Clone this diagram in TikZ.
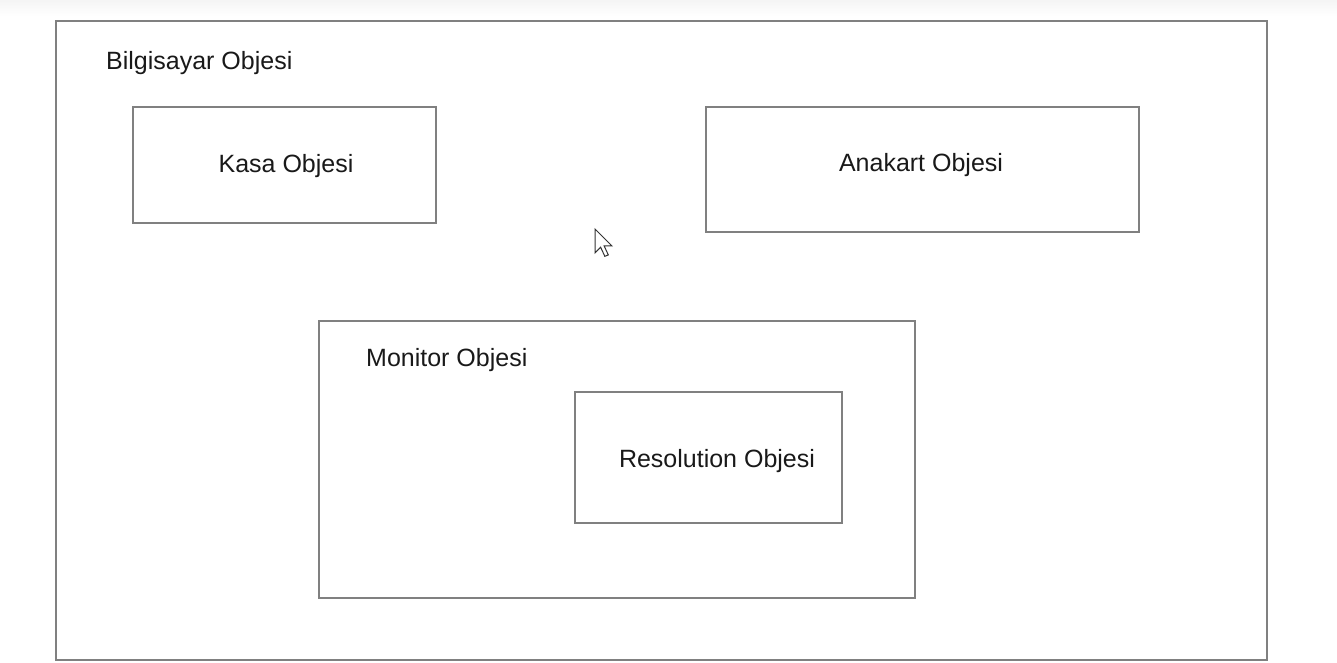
\documentclass[tikz,border=0pt]{standalone}
\usepackage{fontspec}
\setmainfont{Liberation Sans}
\begin{document}
\begin{tikzpicture}[x=1pt,y=-1pt,
  objbox/.style={draw=black!50, line width=1.5pt},
  lbl/.style={font=\fontsize{25}{30}\selectfont, text=black!90, inner sep=0pt},
]
\useasboundingbox (0,0) rectangle (1337,662);
\shade[top color=black!4, bottom color=white] (0,0) rectangle (1337,16);
\draw[objbox, line width=2pt] (56,21) rectangle (1267,660);
\node[lbl, anchor=west] (bilg) at (106,63) {Bilgisayar Objesi};
\draw[objbox] (133,107) rectangle (436,223);
\node[lbl] (kasa) at (286,166) {Kasa Objesi};
\draw[objbox] (706,107) rectangle (1139,232);
\node[lbl] (anakart) at (921,165) {Anakart Objesi};
\draw[objbox] (319,321) rectangle (915,598);
\node[lbl, anchor=west] (monitor) at (366,360) {Monitor Objesi};
\draw[objbox] (575,392) rectangle (842,523);
\node[lbl] (res) at (717,461) {Resolution Objesi};
% mouse cursor
\begin{scope}[shift={(595,229)}, scale=1.4]
\draw[fill=white, draw=black!80, line width=1pt, line join=miter]
  (0,0) -- (0,17) -- (4,13) -- (7,19.5) -- (9.5,18.5) -- (6.5,12) -- (12,12) -- cycle;
\end{scope}
\end{tikzpicture}
\end{document}
